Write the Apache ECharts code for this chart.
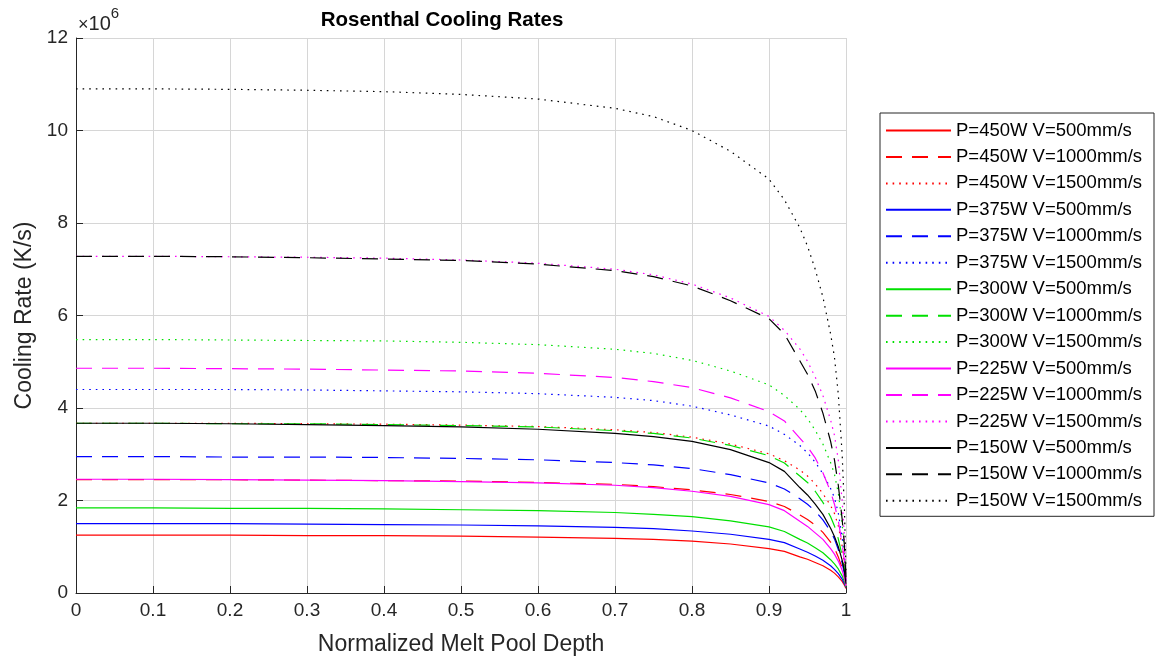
<!DOCTYPE html>
<html>
<head>
<meta charset="utf-8">
<script src="https://cdn.jsdelivr.net/npm/echarts@6/dist/echarts.min.js"></script>
<style>
html,body{margin:0;padding:0;background:#fff;}
#chart{width:1157px;height:662px;}
</style>
</head>
<body>
<div id="chart"></div>
<script>
// Normalized melt pool depth (x) and cooling rates (units of 1e6 K/s)
const depth = [0, 0.1, 0.2, 0.3, 0.4, 0.5, 0.6, 0.7, 0.75, 0.8, 0.85, 0.9, 0.92, 0.94, 0.95, 0.96, 0.97, 0.98, 0.985, 0.99, 0.995, 0.998, 1];

const p450v500  = [1.25, 1.25, 1.25, 1.24, 1.24, 1.23, 1.21, 1.18, 1.16, 1.12, 1.06, 0.96, 0.9, 0.78, 0.73, 0.66, 0.59, 0.49, 0.43, 0.35, 0.25, 0.17, 0.1];
const p450v1000 = [2.45, 2.45, 2.45, 2.44, 2.43, 2.42, 2.39, 2.35, 2.3, 2.23, 2.13, 1.98, 1.87, 1.69, 1.59, 1.47, 1.31, 1.1, 0.97, 0.78, 0.54, 0.34, 0.15];
const p450v1500 = [3.67, 3.67, 3.67, 3.66, 3.65, 3.63, 3.6, 3.53, 3.47, 3.37, 3.22, 3.01, 2.86, 2.66, 2.53, 2.36, 2.15, 1.89, 1.72, 1.45, 1.01, 0.61, 0.2];
const p375v500  = [1.5, 1.5, 1.5, 1.49, 1.48, 1.47, 1.45, 1.42, 1.39, 1.34, 1.27, 1.16, 1.09, 0.95, 0.88, 0.8, 0.71, 0.59, 0.51, 0.42, 0.3, 0.2, 0.12];
const p375v1000 = [2.95, 2.95, 2.94, 2.94, 2.93, 2.91, 2.88, 2.82, 2.77, 2.69, 2.56, 2.38, 2.25, 2.04, 1.92, 1.77, 1.58, 1.33, 1.17, 0.94, 0.65, 0.41, 0.18];
const p375v1500 = [4.4, 4.4, 4.4, 4.39, 4.37, 4.35, 4.31, 4.23, 4.16, 4.04, 3.85, 3.61, 3.43, 3.19, 3.03, 2.83, 2.58, 2.26, 2.06, 1.73, 1.21, 0.73, 0.22];
const p300v500  = [1.84, 1.84, 1.83, 1.83, 1.82, 1.8, 1.78, 1.74, 1.7, 1.65, 1.56, 1.43, 1.33, 1.16, 1.08, 0.98, 0.87, 0.72, 0.63, 0.52, 0.37, 0.24, 0.13];
const p300v1000 = [3.67, 3.67, 3.66, 3.66, 3.64, 3.62, 3.59, 3.51, 3.45, 3.35, 3.19, 2.97, 2.81, 2.53, 2.39, 2.2, 1.96, 1.65, 1.45, 1.17, 0.81, 0.51, 0.2];
const p300v1500 = [5.48, 5.48, 5.47, 5.46, 5.45, 5.42, 5.37, 5.27, 5.18, 5.03, 4.8, 4.5, 4.27, 3.97, 3.77, 3.52, 3.22, 2.82, 2.57, 2.16, 1.51, 0.9, 0.25];
const p225v500  = [2.46, 2.46, 2.45, 2.44, 2.43, 2.41, 2.38, 2.33, 2.28, 2.2, 2.09, 1.91, 1.78, 1.55, 1.44, 1.3, 1.16, 0.96, 0.84, 0.69, 0.49, 0.32, 0.15];
const p225v1000 = [4.86, 4.86, 4.85, 4.84, 4.82, 4.8, 4.75, 4.66, 4.57, 4.44, 4.22, 3.92, 3.72, 3.35, 3.16, 2.92, 2.6, 2.19, 1.92, 1.56, 1.07, 0.68, 0.25];
const p225v1500 = [7.28, 7.28, 7.27, 7.26, 7.24, 7.2, 7.13, 7.0, 6.88, 6.68, 6.38, 5.98, 5.68, 5.28, 5.01, 4.67, 4.27, 3.74, 3.41, 2.87, 2.0, 1.2, 0.3];
const p150v500  = [3.67, 3.67, 3.66, 3.64, 3.62, 3.59, 3.54, 3.45, 3.38, 3.28, 3.1, 2.82, 2.63, 2.28, 2.12, 1.92, 1.7, 1.4, 1.22, 1.0, 0.71, 0.46, 0.2];
const p150v1000 = [7.28, 7.28, 7.27, 7.25, 7.22, 7.19, 7.11, 6.97, 6.84, 6.64, 6.32, 5.93, 5.6, 5.02, 4.73, 4.37, 3.89, 3.28, 2.88, 2.33, 1.6, 1.02, 0.3];
const p150v1500 = [10.9, 10.9, 10.89, 10.87, 10.84, 10.78, 10.68, 10.48, 10.3, 10.0, 9.55, 8.95, 8.5, 7.9, 7.5, 7.0, 6.4, 5.6, 5.1, 4.3, 3.0, 1.8, 0.45];

const seriesNames = [
  'P=450W V=500mm/s', 'P=450W V=1000mm/s', 'P=450W V=1500mm/s',
  'P=375W V=500mm/s', 'P=375W V=1000mm/s', 'P=375W V=1500mm/s',
  'P=300W V=500mm/s', 'P=300W V=1000mm/s', 'P=300W V=1500mm/s',
  'P=225W V=500mm/s', 'P=225W V=1000mm/s', 'P=225W V=1500mm/s',
  'P=150W V=500mm/s', 'P=150W V=1000mm/s', 'P=150W V=1500mm/s'
];
const seriesValues = [
  p450v500, p450v1000, p450v1500,
  p375v500, p375v1000, p375v1500,
  p300v500, p300v1000, p300v1500,
  p225v500, p225v1000, p225v1500,
  p150v500, p150v1000, p150v1500
];
const xTicks = [0, 0.1, 0.2, 0.3, 0.4, 0.5, 0.6, 0.7, 0.8, 0.9, 1];
const yTicks = [0, 2, 4, 6, 8, 10, 12];

const powerColors = ['#FF0000', '#0000FF', '#00E000', '#FF00FF', '#000000'];
const speedDash = ['solid', [16, 10], [1.6, 5]];

const FONT = '"Liberation Sans", Arial, Helvetica, sans-serif';

const series = seriesNames.map((name, i) => ({
  name: name,
  type: 'line',
  symbol: 'none',
  showSymbol: false,
  smooth: false,
  animation: false,
  lineStyle: {
    color: powerColors[Math.floor(i / 3)],
    width: 1.2,
    type: speedDash[i % 3]
  },
  itemStyle: { color: powerColors[Math.floor(i / 3)] },
  data: depth.map((d, k) => [d, seriesValues[i][k]])
}));

const chart = echarts.init(document.getElementById('chart'), null, { renderer: 'canvas' });
chart.setOption({
  backgroundColor: '#ffffff',
  animation: false,
  title: {
    text: 'Rosenthal Cooling Rates',
    left: 437,
    top: 5,
    textAlign: 'center',
    textStyle: { fontFamily: FONT, fontSize: 20.5, fontWeight: 'bold', color: '#000' }
  },
  grid: { left: 76, top: 38, width: 770, height: 555, containLabel: false },
  xAxis: {
    type: 'value',
    min: 0, max: 1, interval: 0.1,
    name: 'Normalized Melt Pool Depth',
    nameLocation: 'middle',
    nameGap: 40,
    nameTextStyle: { fontFamily: FONT, fontSize: 23, color: '#262626' },
    axisLine: { show: true, onZero: false, lineStyle: { color: '#262626', width: 1 } },
    axisTick: { show: true, inside: true, length: 7, lineStyle: { color: '#262626' } },
    axisLabel: {
      fontFamily: FONT, fontSize: 19, color: '#262626', margin: 8,
      formatter: v => { const t = xTicks.find(x => Math.abs(x - v) < 1e-9); return t === undefined ? '' : String(t); }
    },
    splitLine: { show: true, lineStyle: { color: '#d6d6d6', width: 1 } }
  },
  yAxis: {
    type: 'value',
    min: 0, max: 12, interval: 2,
    name: 'Cooling Rate (K/s)',
    nameLocation: 'middle',
    nameGap: 38,
    nameTextStyle: { fontFamily: FONT, fontSize: 23, color: '#262626' },
    axisLine: { show: true, lineStyle: { color: '#262626', width: 1 } },
    axisTick: { show: true, inside: true, length: 7, lineStyle: { color: '#262626' } },
    axisLabel: {
      fontFamily: FONT, fontSize: 19, color: '#262626', margin: 8,
      formatter: v => { const t = yTicks.find(y => Math.abs(y - v) < 1e-9); return t === undefined ? '' : String(t); }
    },
    splitLine: { show: true, lineStyle: { color: '#d6d6d6', width: 1 } }
  },
  legend: {
    orient: 'vertical',
    left: 880,
    top: 113,
    padding: [8, 6, 6, 5],
    itemWidth: 65,
    itemHeight: 16,
    itemGap: 7.45,
    backgroundColor: '#ffffff',
    borderColor: '#262626',
    borderWidth: 1,
    borderRadius: 0,
    itemStyle: { opacity: 0 },
    textStyle: { fontFamily: FONT, fontSize: 18.5, color: '#000', lineHeight: 16, width: 192, padding: [0, 0, 0, 0] },
    data: seriesNames
  },
  graphic: [
    {
      type: 'text',
      left: 78,
      top: 6,
      style: {
        text: '{m|×}{n|10}{s|6}',
        rich: {
          m: { fontFamily: FONT, fontSize: 18, fill: '#262626', verticalAlign: 'bottom', lineHeight: 28 },
          n: { fontFamily: FONT, fontSize: 20, fill: '#262626', verticalAlign: 'bottom', lineHeight: 28 },
          s: { fontFamily: FONT, fontSize: 15, fill: '#262626', verticalAlign: 'top', lineHeight: 28, padding: [0, 0, 12, 0] }
        }
      }
    }
  ],
  series: series
});
</script>
</body>
</html>
